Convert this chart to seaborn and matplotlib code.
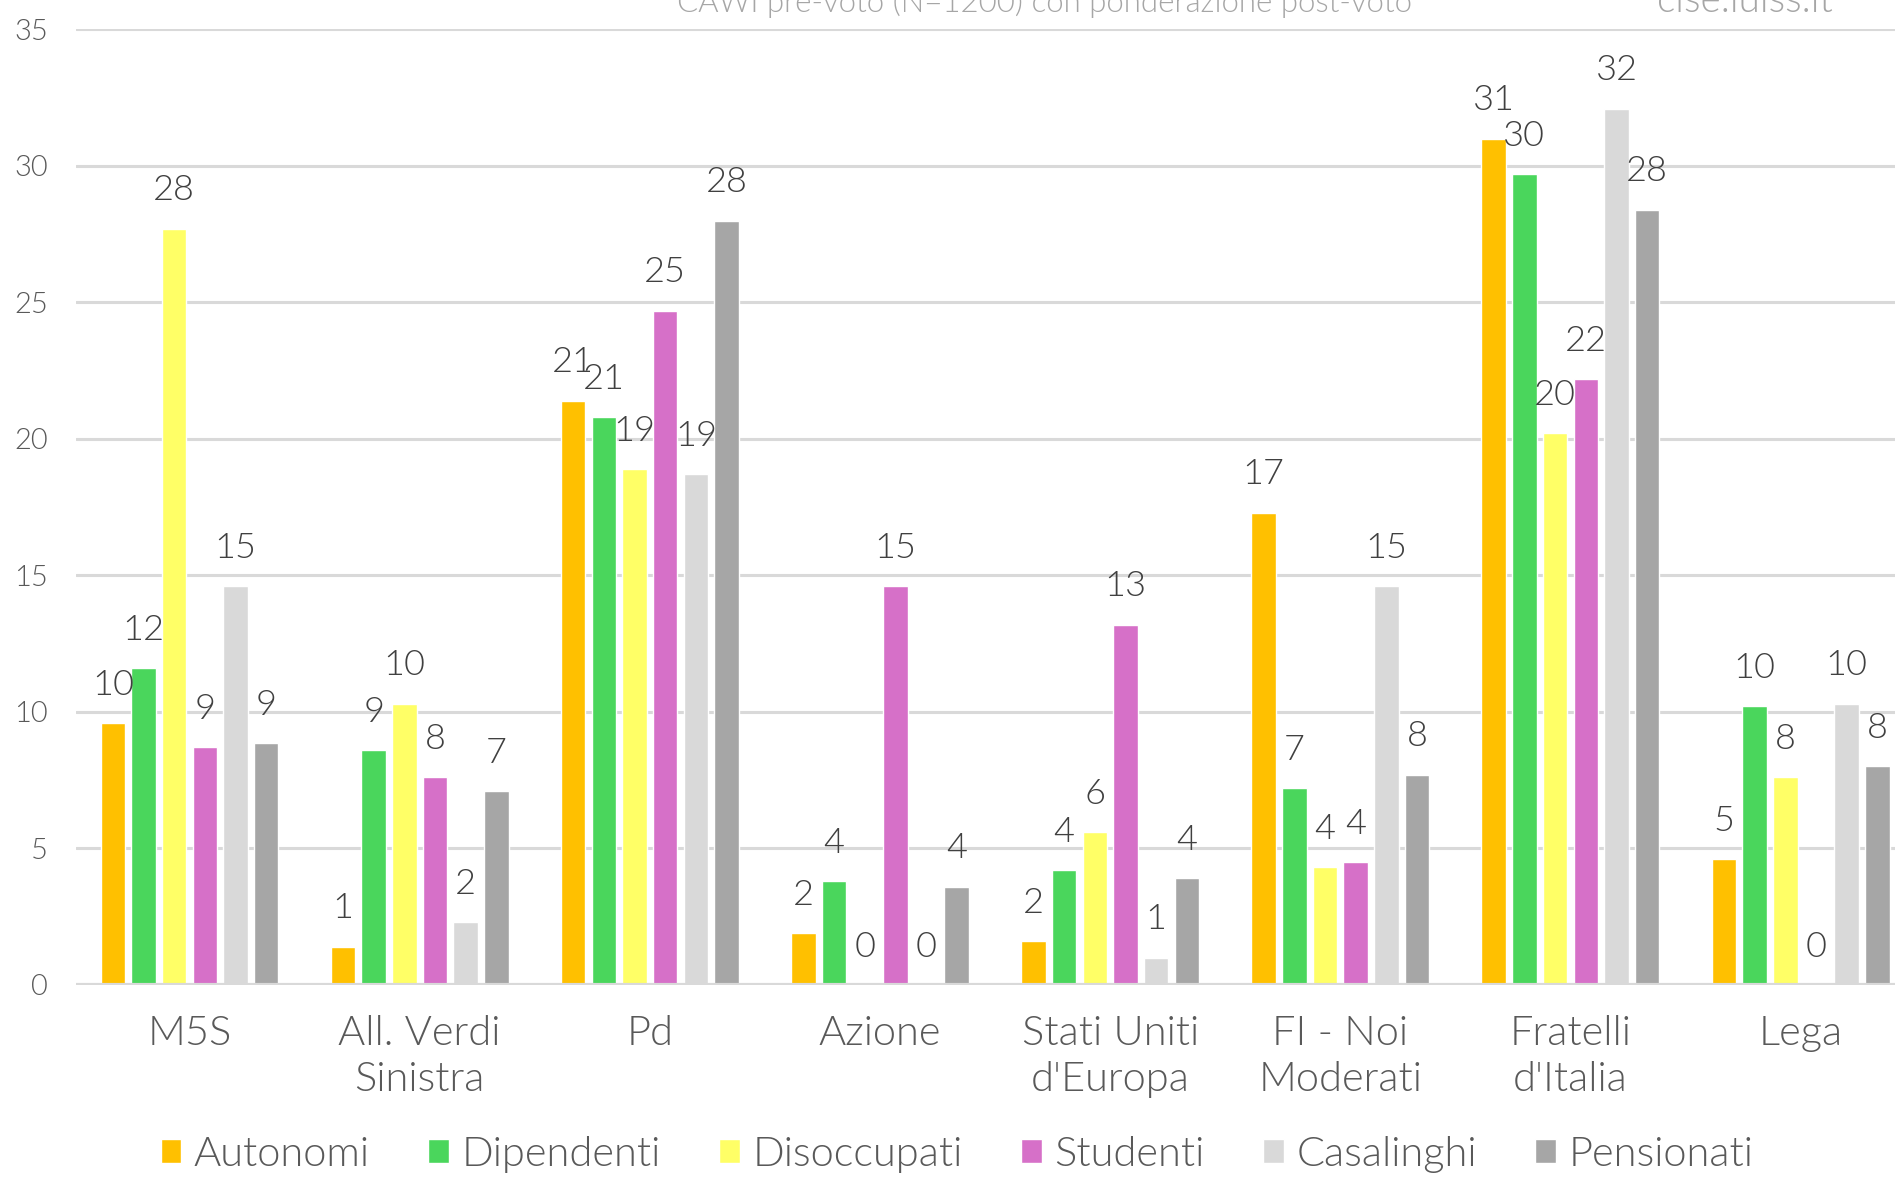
import matplotlib
matplotlib.use("Agg")
import matplotlib.pyplot as plt
import seaborn as sns
import pandas as pd

# party categories (x axis)
parties = ["M5S", "All. Verdi\nSinistra", "Pd", "Azione", "Stati Uniti\nd'Europa",
           "FI - Noi\nModerati", "Fratelli\nd'Italia", "Lega"]

# series: vote share (%) by occupational group
groups = ["Autonomi", "Dipendenti", "Disoccupati", "Studenti", "Casalinghi", "Pensionati"]
autonomi = [9.6, 1.4, 21.4, 1.9, 1.6, 17.3, 31.0, 4.6]
dipendenti = [11.6, 8.6, 20.8, 3.8, 4.2, 7.2, 29.7, 10.2]
disoccupati = [27.7, 10.3, 18.9, 0.0, 5.6, 4.3, 20.2, 7.6]
studenti = [8.7, 7.6, 24.7, 14.6, 13.2, 4.5, 22.2, 0.0]
casalinghi = [14.6, 2.3, 18.7, 0.0, 1.0, 14.6, 32.1, 10.3]
pensionati = [8.85, 7.1, 28.0, 3.6, 3.9, 7.7, 28.4, 8.0]

palette = ["#FFC000", "#4AD65C", "#FFFF66", "#D670C8", "#D9D9D9", "#A6A6A6"]

series = [autonomi, dipendenti, disoccupati, studenti, casalinghi, pensionati]
rows = []
for g, vals in zip(groups, series):
    for p, v in zip(parties, vals):
        rows.append({"Partito": p, "Gruppo": g, "Valore": v})
df = pd.DataFrame(rows)

sns.set_theme(style="white")
plt.rcParams["font.family"] = ["Lato", "DejaVu Sans"]

fig = plt.figure(figsize=(18.95, 11.78), dpi=100)
ax = fig.add_axes([0.040, 0.164, 0.960, 0.811])

sns.barplot(data=df, x="Partito", y="Valore", hue="Gruppo", order=parties,
            hue_order=groups, palette=palette, width=0.8, gap=0.2,
            saturation=1, ax=ax)

for cont, vals in zip(ax.containers, series):
    ax.bar_label(cont, labels=[f"{v:.0f}" for v in vals], padding=16,
                 fontsize=26, color="#404040", fontweight=300)

ax.set_ylim(0, 35)
ax.set_xlim(-0.494, 7.41)
ax.set_yticks(range(0, 36, 5))
ax.yaxis.grid(True, color="#D9D9D9", linewidth=2.2, zorder=0)
ax.set_axisbelow(True)
ax.axhline(0, color="#D9D9D9", linewidth=3, zorder=1)
for side, spine in ax.spines.items():
    spine.set_visible(False)
ax.tick_params(axis="both", length=0)
ax.tick_params(axis="y", labelsize=21, labelcolor="#595959", pad=20)
ax.tick_params(axis="x", labelsize=30, labelcolor="#595959", pad=22)
for t in ax.get_xticklabels():
    t.set_linespacing(1.3)
    t.set_fontweight(300)
for t in ax.get_yticklabels():
    t.set_fontweight(300)
ax.set_xlabel("")
ax.set_ylabel("")

handles, labels = ax.get_legend_handles_labels()
ax.get_legend().remove()
fig.legend(handles, labels, loc="center", bbox_to_anchor=(0.505, 0.02), ncol=6,
           frameon=False, handlelength=0.5, handleheight=0.5,
           handletextpad=0.3, columnspacing=1.4, labelcolor="#595959",
           prop={"family": ["Lato", "DejaVu Sans"], "weight": 300, "size": 30})

fig.text(0.551, 1 - 12 / 1178, "CAWI pre-voto (N=1200) con ponderazione post-voto",
         ha="center", va="baseline", fontsize=22.5, color="#A6A6A6", fontweight=300)
fig.text(0.921, 1 - 12 / 1178, "cise.luiss.it", ha="center", va="baseline",
         fontsize=28, color="#A6A6A6", fontweight=300)

fig.savefig("out.png", dpi=100, facecolor="white")
